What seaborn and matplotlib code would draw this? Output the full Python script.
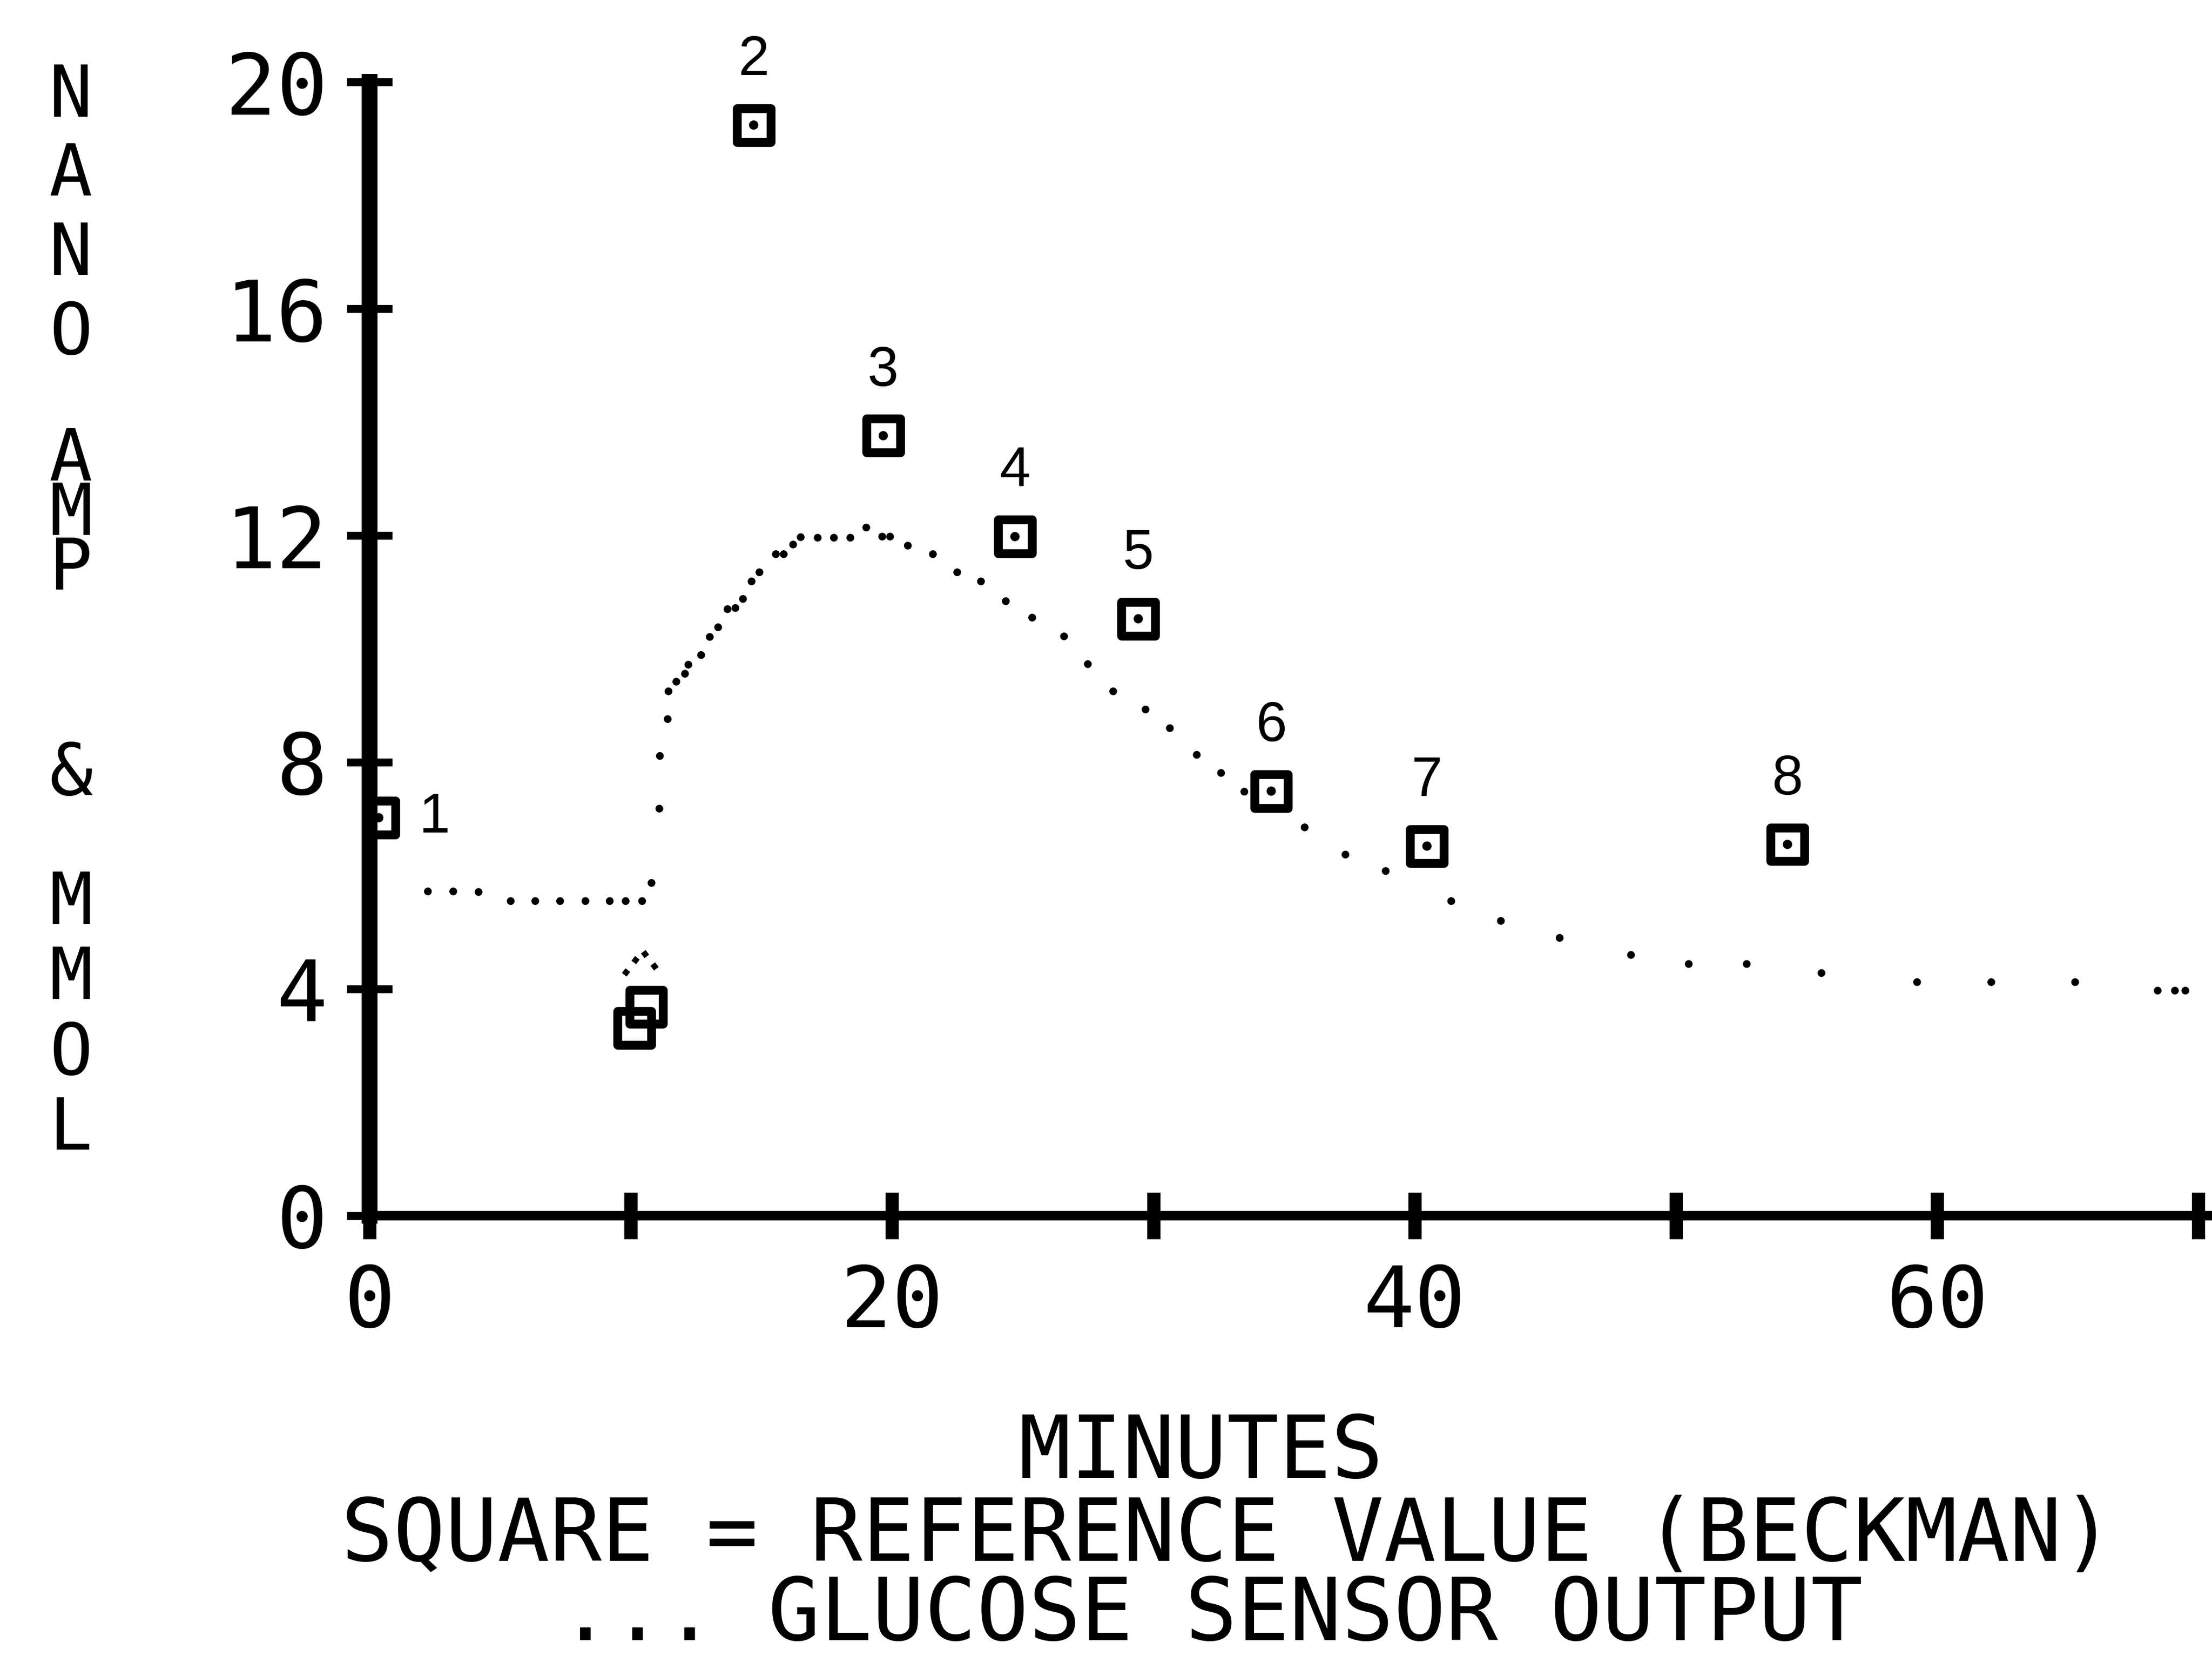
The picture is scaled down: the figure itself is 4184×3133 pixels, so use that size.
import matplotlib
matplotlib.use("Agg")
import matplotlib.pyplot as plt
import numpy as np
import pandas as pd
import seaborn as sns

# ---------------- data ----------------
sensor_minutes = [2.23, 3.20, 4.17, 5.40, 6.34, 7.29, 8.26, 9.19, 9.80, 10.43,
                  10.79, 11.09, 11.11, 11.41, 11.44, 11.74, 12.07, 12.20, 12.69,
                  13.02, 13.34, 13.70, 14.00, 14.29, 14.62, 14.92, 15.55, 15.85,
                  16.21, 16.50, 17.15, 17.77, 18.40, 19.01, 19.62, 19.92, 20.60,
                  21.56, 22.49, 23.40, 24.35, 25.36, 26.58, 27.49, 28.46, 29.70,
                  30.63, 31.66, 32.59, 33.48, 35.79, 37.35, 38.89, 41.40, 43.30,
                  45.55, 48.28, 50.49, 52.71, 55.57, 59.23, 62.07, 65.28, 68.44,
                  69.10, 69.50]
sensor_values = [5.72, 5.72, 5.71, 5.55, 5.55, 5.55, 5.55, 5.55, 5.55, 5.55,
                 5.87, 7.18, 8.11, 8.76, 9.25, 9.42, 9.56, 9.72, 9.89,
                 10.21, 10.38, 10.70, 10.72, 10.88, 11.19, 11.35, 11.67, 11.67,
                 11.84, 11.97, 11.96, 11.96, 11.96, 12.14, 11.98, 11.98, 11.82,
                 11.67, 11.35, 11.19, 10.84, 10.55, 10.22, 9.73, 9.25, 8.93,
                 8.60, 8.13, 7.81, 7.48, 6.85, 6.37, 6.08, 5.55, 5.20,
                 4.90, 4.60, 4.44, 4.44, 4.28, 4.12, 4.12, 4.12, 3.97,
                 3.97, 3.97]

ref_minutes = [0.35, 14.70, 19.66, 24.70, 29.42, 34.51, 40.47, 54.27]
ref_values = [7.02, 19.24, 13.76, 11.98, 10.53, 7.49, 6.52, 6.55]
ref_labels = ["1", "2", "3", "4", "5", "6", "7", "8"]

extra_ref_minutes = [10.59, 10.14]
extra_ref_values = [3.68, 3.31]

caret_minutes = [10.45]
caret_values = [4.46]

x_ticks = [0, 10, 20, 30, 40, 50, 60, 70]
x_tick_labels = ["0", "", "20", "", "40", "", "60", ""]
y_ticks = [0, 4, 8, 12, 16, 20]
y_tick_labels = ["0", "4", "8", "12", "16", "20"]

ylabel_words = ["NANO", "AMP", "&", "MMOL"]
xlabel_lines = ["MINUTES", "SQUARE = REFERENCE VALUE (BECKMAN)",
                "... GLUCOSE SENSOR OUTPUT"]

# ---------------- style ----------------
sns.set_theme(style="ticks")
plt.rcParams["font.family"] = ["DejaVu Sans Mono", "DejaVu Sans"]
plt.rcParams["axes.edgecolor"] = "black"
plt.rcParams["xtick.color"] = "black"
plt.rcParams["ytick.color"] = "black"

fig = plt.figure(figsize=(20.92, 15.665), dpi=200)
fig.patch.set_facecolor("white")
ax = fig.add_axes([0.1671, 0.2659, 0.8315, 0.6846])
ax.set_facecolor("white")

sensor_df = pd.DataFrame({"minutes": sensor_minutes, "value": sensor_values})
ref_df = pd.DataFrame({"minutes": ref_minutes, "value": ref_values})
extra_df = pd.DataFrame({"minutes": extra_ref_minutes, "value": extra_ref_values})
caret_df = pd.DataFrame({"minutes": caret_minutes, "value": caret_values})

# glucose sensor output: dotted trace
sns.scatterplot(data=sensor_df, x="minutes", y="value", ax=ax, marker="o",
                s=28, color="black", edgecolor="none", legend=False, zorder=3)

# reference squares
for df in (ref_df, extra_df):
    sns.scatterplot(data=df, x="minutes", y="value", ax=ax, marker="s",
                    s=23 ** 2, facecolor="none", edgecolor="black",
                    linewidth=6, legend=False, zorder=4)
sns.scatterplot(data=ref_df, x="minutes", y="value", ax=ax, marker="o",
                s=40, color="black", edgecolor="none", legend=False, zorder=4)

# small caret above the square at ~10 min
caret = [(-1, -0.65), (0, 0.65), (1, -0.65)]
sns.scatterplot(data=caret_df, x="minutes", y="value", ax=ax, marker=caret,
                s=25 ** 2, facecolor="none", edgecolor="black", linewidth=4,
                linestyle=":", legend=False, zorder=4)

# numbered labels
for i, (mx, my, lab) in enumerate(zip(ref_minutes, ref_values, ref_labels)):
    off = (38, 0) if i == 0 else (0, 44)
    ax.annotate(lab, xy=(mx, my), xytext=off, textcoords="offset points",
                ha="center", va="center", fontsize=38,
                family=["Liberation Sans", "DejaVu Sans"], color="black",
                annotation_clip=False)

# axes
ax.set_xlim(0, 70.4)
ax.set_ylim(0, 20)
ax.set_xticks(x_ticks)
ax.set_xticklabels(x_tick_labels)
ax.set_yticks(y_ticks)
ax.set_yticklabels(y_tick_labels)
ax.set_xlabel("")
ax.set_ylabel("")
for side in ("top", "right"):
    ax.spines[side].set_visible(False)
ax.spines["left"].set_linewidth(10.8)
ax.spines["bottom"].set_linewidth(6.5)
ax.tick_params(axis="y", direction="inout", length=31, width=5.4,
               labelsize=58, pad=13)
ax.tick_params(axis="x", direction="inout", length=31.7, width=9,
               labelsize=58, pad=16)

# vertical stacked y label (one block per word)
ylab_pos = [0.870, 0.689, 0.532, 0.386]
ylab_spacing = [1.17, 0.72, 1.0, 1.10]
for word, yp, ls in zip(ylabel_words, ylab_pos, ylab_spacing):
    fig.text(0.032, yp, "\n".join(word), ha="center", va="center",
             fontsize=49, linespacing=ls, color="black")

# caption lines under the axis
fig.text(0.5428, 0.1076, xlabel_lines[0], ha="center", va="baseline",
         fontsize=59, color="black")
fig.text(0.5548, 0.0575, xlabel_lines[1], ha="center", va="baseline",
         fontsize=59, color="black")
fig.text(0.5475, 0.0096, xlabel_lines[2], ha="center", va="baseline",
         fontsize=59, color="black")

fig.savefig("out.png", dpi=200, facecolor="white")
